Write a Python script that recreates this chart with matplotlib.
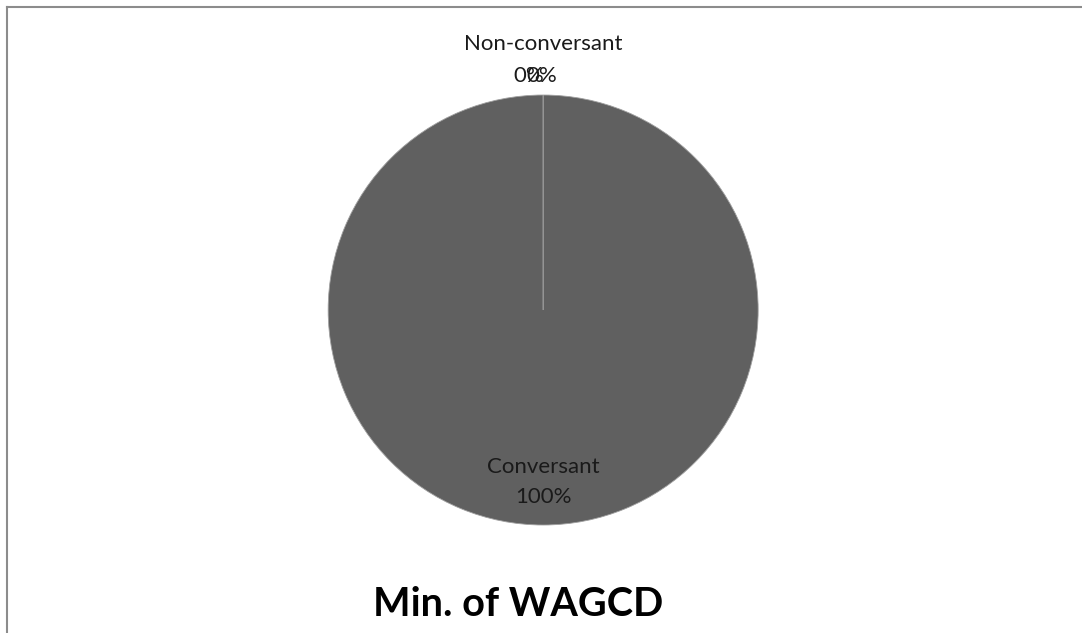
import matplotlib.pyplot as plt
from matplotlib.lines import Line2D

# data
categories = ['Conversant', 'Non-conversant', '']
values = [100, 0, 0]
title = 'Min. of WAGCD'

plt.rcParams['font.family'] = ['Lato', 'DejaVu Sans']

fig = plt.figure(figsize=(10.82, 6.33), dpi=100)
ax = fig.add_axes([0.502 - 0.1987, 0.5103 - 0.3397, 0.3974, 0.6793])

wedges, _ = ax.pie(values, startangle=90, counterclock=False, radius=1,
                   colors=['#606060', '#606060', '#606060'],
                   wedgeprops=dict(edgecolor='#a0a0a0', linewidth=0.6))
ax.set_xlim(-1, 1)
ax.set_ylim(-1, 1)

total = sum(values)
pcts = ['{:.0f}%'.format(v / total * 100) for v in values]

# labels
fs = 16
ax.text(0, -0.73, categories[0], ha='center', va='center', fontsize=fs, color='#1a1a1a')
ax.text(0, -0.87, pcts[0], ha='center', va='center', fontsize=fs, color='#1a1a1a')
ax.text(0, 1.235, categories[1], ha='center', va='center', fontsize=fs, color='#1a1a1a', clip_on=False)
ax.text(-0.065, 1.09, pcts[1], ha='center', va='center', fontsize=fs, color='#1a1a1a', clip_on=False)
ax.text(-0.005, 1.09, pcts[2], ha='center', va='center', fontsize=fs, color='#1a1a1a', clip_on=False)

fig.text(518 / 1082, 1 - 605 / 633, title, ha='center', va='center', fontsize=28.5, fontweight='bold', color='#000000')

# border lines (left and top)
bx = 7 / 1082
by = 1 - 7 / 633
fig.add_artist(Line2D([bx, bx], [0, by], color='#8c8c8c', linewidth=1.5, transform=fig.transFigure))
fig.add_artist(Line2D([bx, 1], [by, by], color='#8c8c8c', linewidth=1.5, transform=fig.transFigure))

fig.savefig('out.png', dpi=100)
